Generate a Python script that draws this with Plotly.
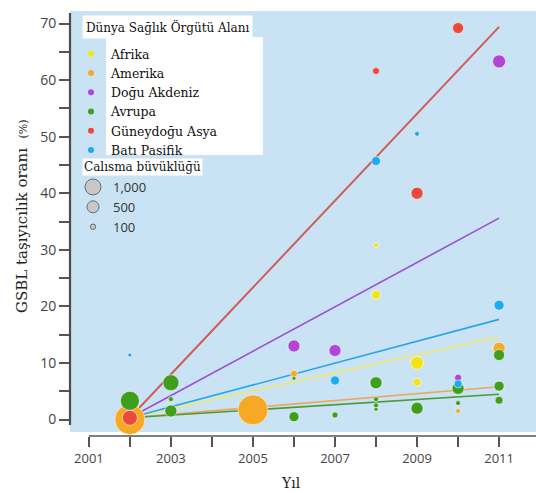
import math
import plotly.graph_objects as go

# ---------------- data ----------------
regions = ["Afrika", "Amerika", "Doğu Akdeniz", "Avrupa", "Güneydoğu Asya", "Batı Pasifik"]

afrika_year = [2008, 2008, 2009, 2009]
afrika_rate = [30.8, 22.0, 10.0, 6.6]
afrika_n = [85, 280, 585, 220]

amerika_year = [2002, 2005, 2006, 2010, 2011]
amerika_rate = [0.0, 1.7, 8.1, 1.5, 12.6]
amerika_n = [3110, 3110, 170, 85, 500]

dogu_year = [2006, 2007, 2010, 2011]
dogu_rate = [13.0, 12.2, 7.4, 63.3]
dogu_n = [500, 500, 170, 585]

avrupa_year = [2002, 2003, 2003, 2003, 2006, 2006, 2007, 2008, 2008, 2008, 2008,
               2009, 2010, 2010, 2011, 2011, 2011]
avrupa_rate = [3.3, 6.5, 3.6, 1.5, 7.3, 0.5, 0.8, 6.5, 3.6, 2.5, 1.8,
               2.0, 5.5, 2.9, 11.4, 5.9, 3.4]
avrupa_n = [1250, 885, 85, 500, 55, 345, 125, 500, 85, 85, 55,
            500, 500, 85, 420, 345, 220]

guney_year = [2002, 2008, 2009, 2010]
guney_rate = [0.3, 61.6, 40.0, 69.2]
guney_n = [780, 170, 500, 420]

bati_year = [2002, 2007, 2008, 2009, 2010, 2011]
bati_rate = [11.4, 6.9, 45.7, 50.5, 6.3, 20.2]
bati_n = [55, 280, 280, 85, 220, 345]

# trend lines (region order), value at first and last year
trend_years = [2002, 2011]
trend_start = [0.3, 0.3, 0.3, 0.3, 0.3, 0.3]
trend_end = [14.6, 5.8, 35.6, 4.45, 69.4, 17.7]

size_legend_n = [1000, 500, 100]
size_legend_labels = ["1,000", "500", "100"]

x_tick_vals = [2001, 2003, 2005, 2007, 2009, 2011]
y_tick_vals = [0, 10, 20, 30, 40, 50, 60, 70]

# ---------------- styles ----------------
marker_colors = ["#f5e31a", "#f7a824", "#b245d4", "#3f9e1c", "#ea4a3a", "#1eaaf0"]
line_colors = ["#ede77a", "#e9a95a", "#9a4fd0", "#4a9a38", "#cf5c57", "#29a6e6"]
bg_blue = "#c9e3f5"
serif = "DejaVu Serif"
sans = "Open Sans"

W, H = 536, 493
L, R, T, B = 70, 536, 11, 436


def px_x(p):
    return (p - L) / (R - L)


def px_y(p):
    return (B - p) / (B - T)


def diam(n):
    return 17 * math.sqrt(n / 1000.0)


series = {
    "Afrika": (afrika_year, afrika_rate, afrika_n),
    "Amerika": (amerika_year, amerika_rate, amerika_n),
    "Doğu Akdeniz": (dogu_year, dogu_rate, dogu_n),
    "Avrupa": (avrupa_year, avrupa_rate, avrupa_n),
    "Güneydoğu Asya": (guney_year, guney_rate, guney_n),
    "Batı Pasifik": (bati_year, bati_rate, bati_n),
}

fig = go.Figure()

# trend lines (below markers)
for i, reg in enumerate(regions):
    fig.add_trace(go.Scatter(
        x=trend_years, y=[trend_start[i], trend_end[i]], mode="lines",
        line=dict(color=line_colors[i], width=2 if reg == "Güneydoğu Asya" else 1.6),
        showlegend=False, hoverinfo="skip"))

# markers, drawing order
draw_order = ["Amerika", "Avrupa", "Afrika", "Doğu Akdeniz", "Batı Pasifik", "Güneydoğu Asya"]
for reg in draw_order:
    i = regions.index(reg)
    xs, ys, ns = series[reg]
    fig.add_trace(go.Scatter(
        x=xs, y=ys, mode="markers", name=reg, showlegend=False,
        marker=dict(color=marker_colors[i], size=[diam(n) for n in ns],
                    sizemode="diameter", opacity=1,
                    line=dict(color="rgba(255,255,255,0.55)", width=1))))

# legend entries (region)
for i, reg in enumerate(regions):
    fig.add_trace(go.Scatter(
        x=[None], y=[None], mode="markers", name=reg, legend="legend",
        marker=dict(color=marker_colors[i], size=6)))

# legend entries (study size)
for n, lab in zip(size_legend_n, size_legend_labels):
    fig.add_trace(go.Scatter(
        x=[None], y=[None], mode="markers", name=lab, legend="legend2",
        marker=dict(color="#c8c8c8", size=diam(n), line=dict(color="#6b6b6b", width=1))))

shapes = [
    # plot background
    dict(type="rect", xref="paper", yref="paper", x0=0, x1=1, y0=px_y(432), y1=1,
         fillcolor=bg_blue, line=dict(width=0), layer="below"),
    # white box behind legend texts
    dict(type="rect", xref="paper", yref="paper", x0=px_x(106), x1=px_x(263),
         y0=px_y(155), y1=px_y(37), fillcolor="white", line=dict(width=0), layer="below"),
    # axis lines
    dict(type="line", xref="x", yref="paper", x0=2001, x1=2011.95, y0=0, y1=0,
         line=dict(color="#555555", width=1.6)),
    dict(type="line", xref="paper", yref="paper", x0=0, x1=0, y0=px_y(425), y1=px_y(13),
         line=dict(color="#4d4d4d", width=2.2)),
]

annotations = [
    dict(text="Dünya Sağlık Örgütü Alanı", xref="paper", yref="paper",
         x=px_x(82), y=px_y(27), xanchor="left", yanchor="middle", showarrow=False,
         bgcolor="white", borderpad=3, font=dict(family=serif, size=12, color="#111")),
    dict(text="Calısma büvüklüğü", xref="paper", yref="paper",
         x=px_x(82), y=px_y(167), xanchor="left", yanchor="middle", showarrow=False,
         bgcolor="white", borderpad=1, font=dict(family=serif, size=12, color="#111")),
    dict(text="GSBL taşıyıcılık oranı  <span style='font-size:11px'>(%)</span>",
         xref="paper", yref="paper", x=px_x(22), y=px_y(216), textangle=-90,
         xanchor="center", yanchor="middle", showarrow=False,
         font=dict(family=serif, size=15, color="#222")),
    dict(text="Yıl", xref="paper", yref="paper", x=px_x(291), y=px_y(483),
         xanchor="center", yanchor="middle", showarrow=False,
         font=dict(family=serif, size=14, color="#222")),
]

fig.update_layout(
    width=W, height=H, autosize=False,
    margin=dict(l=L, r=W - R, t=T, b=H - B),
    paper_bgcolor="white", plot_bgcolor="white",
    shapes=shapes, annotations=annotations,
    legend=dict(x=px_x(71), y=px_y(39), xanchor="left", yanchor="top",
                bgcolor="rgba(0,0,0,0)", borderwidth=0,
                font=dict(family=serif, size=12.5, color="#111"),
                itemsizing="trace", tracegroupgap=0),
    legend2=dict(x=px_x(73), y=px_y(172), xanchor="left", yanchor="top",
                 bgcolor="rgba(0,0,0,0)", borderwidth=0,
                 font=dict(family=sans, size=13, color="#333"),
                 itemsizing="trace", tracegroupgap=0),
    xaxis=dict(range=[2000.54, 2011.9], tickmode="array", tickvals=x_tick_vals,
               ticks="outside", ticklen=10, tickwidth=1.5, tickcolor="#555",
               showline=False, showgrid=False, zeroline=False,
               tickfont=dict(family=sans, size=13, color="#444"),
               minor=dict(tickmode="linear", tick0=2001, dtick=1, ticks="outside",
                          ticklen=10, tickwidth=1.5, tickcolor="#555")),
    yaxis=dict(range=[-2.917, 72.21], tickmode="array", tickvals=y_tick_vals,
               ticks="outside", ticklen=10, tickwidth=1.5, tickcolor="#555",
               showline=False, showgrid=False, zeroline=False,
               tickfont=dict(family=sans, size=14, color="#444"),
               minor=dict(tickmode="linear", tick0=0, dtick=5, ticks="outside",
                          ticklen=10, tickwidth=1.5, tickcolor="#555")),
)

fig.write_html("out.html", config={"displayModeBar": False},
               post_script="document.body.style.margin='0px';")
